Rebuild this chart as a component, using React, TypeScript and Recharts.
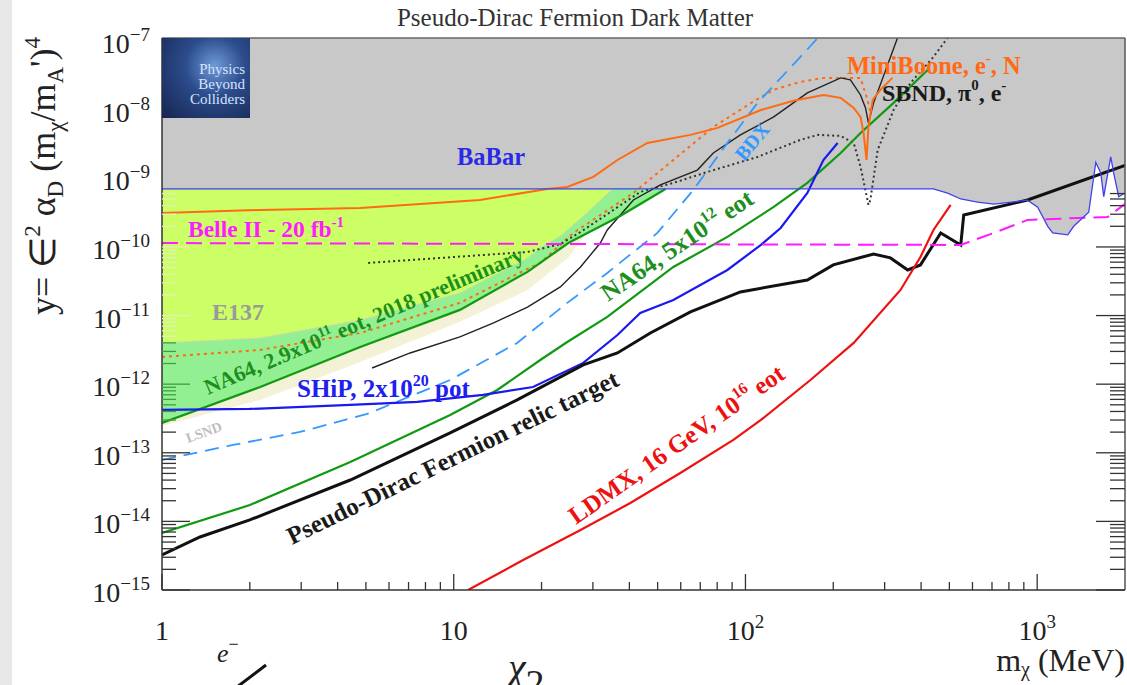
import React from 'react'
import { ComposedChart, Line, Area, XAxis, YAxis, ReferenceLine } from 'recharts'

const SERIF = '"Liberation Serif", "Times New Roman", serif'

const X_MIN = 1
const X_MAX = 2000
const Y_MIN = 1e-15
const Y_MAX = 1.11e-7

// axis ticks (ROOT style: decades + 2..9 minors)
const X_DECADES = [1, 10, 100, 1000]
const Y_DECADES = [-15, -14, -13, -12, -11, -10, -9, -8, -7]
const MINOR = [2, 3, 4, 5, 6, 7, 8, 9]
const X_TICKS = X_DECADES.flatMap(d => (d === 1000 ? [d] : [d, ...MINOR.map(m => m * d)]))
const Y_TICKS = Y_DECADES.flatMap(e => (e === -7 ? [1e-7] : [10 ** e, ...MINOR.map(m => m * 10 ** e)]))

// [m_chi (MeV), y]
const BABAR = [
  [1, 7.0e-10], [441, 7.0e-10], [493, 6.1e-10], [547, 5.0e-10], [625, 4.5e-10], [710, 4.2e-10],
  [927, 4.8e-10], [1004, 3.8e-10], [1087, 2.0e-10], [1130, 1.6e-10], [1273, 1.5e-10], [1334, 2.0e-10],
  [1502, 3.2e-10], [1588, 1.7e-9], [1652, 1.2e-9], [1691, 5.4e-10], [1787, 2.05e-9], [1829, 1.2e-9],
  [1903, 5.4e-10], [2000, 6.1e-10],
]
const BELLE2 = [[1, 1.14e-10], [547, 1.07e-10], [710, 1.6e-10], [927, 2.48e-10], [1746, 2.74e-10], [2000, 4.24e-10]]
const E137_LOW = [
  [1, 4.0e-12], [2.17, 4.7e-12], [4.78, 8.6e-12], [10.5, 2.13e-11], [17.9, 6.9e-11],
  [19.8, 9.7e-11], [23.2, 1.44e-10], [28.3, 3.0e-10], [35, 7.0e-10],
]
const NA64_2018 = [
  [1, 2.72e-13], [2.17, 9.1e-13], [4.78, 3.48e-12], [10.5, 1.21e-11], [17.9, 4.33e-11],
  [24.7, 1.14e-10], [37.2, 2.83e-10], [53.2, 7.0e-10],
]
// [m, low, high]
const LSND = [
  [1, 2.46e-13, 2.72e-13], [2.17, 5.9e-13, 9.1e-13], [4.78, 2.1e-12, 3.48e-12], [10.5, 8.1e-12, 1.21e-11],
  [17.9, 2.36e-11, 4.33e-11], [24.7, 7.0e-11, 1.14e-10], [28.3, 1.5e-10, 1.5e-10],
]
const MINIBOONE = [
  [1, 3.13e-10], [2.17, 3.46e-10], [4.78, 3.71e-10], [12.3, 4.84e-10], [20.9, 7.0e-10], [24.5, 7.5e-10],
  [30.1, 1.05e-9], [36.4, 1.85e-9], [46.1, 3.28e-9], [64.8, 4.3e-9], [80.2, 5.43e-9], [113, 9.9e-9],
  [146, 1.35e-8], [185, 1.64e-8], [212, 1.49e-8], [235, 1.06e-8], [248, 7.85e-9], [254, 4.59e-9],
  [260, 1.85e-9], [264, 5.61e-9], [273, 1.39e-8], [290, 1.95e-8], [319, 2.91e-8],
]
const MINIBOONE_DOT = [
  [1, 2.49e-12], [2.17, 3.16e-12], [4.78, 5.57e-12], [10.5, 1.53e-11], [17.9, 4.8e-11], [19.8, 5.85e-11],
  [25.7, 1.6e-10], [41.3, 6.12e-10], [56.6, 1.85e-9], [77.6, 5.61e-9], [106, 1.3e-8], [125, 1.95e-8],
  [154, 2.54e-8], [185, 2.91e-8], [248, 2.91e-8], [262, 1.39e-8], [268, 9.4e-9],
]
const SBND = [
  [5.25, 1.72e-12], [7.09, 2.85e-12], [10.5, 4.88e-12], [13.7, 7.8e-12], [17.9, 1.33e-11], [23.2, 2.61e-11],
  [27.2, 5.11e-11], [31.8, 1.14e-10], [33.6, 1.77e-10], [41.3, 4.84e-10], [51.1, 8.02e-10], [68.4, 1.32e-9],
  [77.6, 2.34e-9], [96.1, 4.3e-9], [125, 7.85e-9], [163, 1.76e-8], [212, 2.91e-8], [229, 2.72e-8],
  [248, 1.64e-8], [258, 1.06e-8], [264, 6.43e-9], [275, 1.26e-8], [332, 1.11e-7],
]
const SBND_DOT = [
  [5.09, 5.85e-11], [17.9, 8.45e-11], [23.2, 1.1e-10], [27.2, 1.65e-10], [43.6, 6.34e-10], [56.6, 8.57e-10],
  [74.1, 1.24e-9], [110, 2.05e-9], [154, 3.63e-9], [177, 4.3e-9], [212, 4.15e-9], [235, 3.28e-9],
  [248, 1.47e-9], [262, 4.84e-10], [264, 4.09e-10], [268, 4.84e-10], [284, 2.59e-9], [322, 9.93e-9],
  [368, 2.46e-8], [441, 5.89e-8], [493, 1.11e-7],
]
const BDX = [
  [1, 7.85e-14], [1.75, 1.3e-13], [2.97, 2.01e-13], [5.05, 3.68e-13], [9.72, 1.15e-12], [16.5, 3.99e-12],
  [24.5, 1.53e-11], [33.6, 4.18e-11], [49.9, 1.6e-10], [66.3, 6.78e-10], [86.7, 3.28e-9], [110, 1.26e-8],
  [151, 5.32e-8], [177, 1.11e-7],
]
const NA64_5E12 = [
  [1, 6.78e-15], [2.0, 1.73e-14], [4.42, 7.35e-14], [9.72, 3.56e-13], [14.1, 8.22e-13], [19.8, 2.25e-12],
  [24.5, 4.12e-12], [33.6, 9.55e-12], [56.6, 5.11e-11], [86.7, 1.4e-10], [125, 3.83e-10], [163, 8.57e-10],
  [212, 2.34e-9], [248, 4.59e-9], [322, 1.26e-8], [421, 3.8e-8],
]
const SHIP = [
  [1, 4.21e-13], [2.0, 4.35e-13], [4.42, 4.98e-13], [7.5, 5.51e-13], [12.6, 6.97e-13], [18.7, 9.1e-13],
  [27.8, 2.04e-12], [36.4, 5.21e-12], [43.6, 1.09e-11], [56.6, 1.69e-11], [86.7, 4.62e-11], [113, 1.07e-10],
  [132, 1.89e-10], [163, 6.12e-10], [185, 1.85e-9], [207, 3.28e-9],
]
const RELIC = [
  [1, 3.24e-15], [1.35, 5.93e-15], [2.0, 1.05e-14], [4.42, 4.01e-14], [9.72, 1.95e-13], [16.5, 5.89e-13],
  [27.8, 1.91e-12], [36.4, 2.85e-12], [47.2, 5.57e-12], [64.8, 1.13e-11], [96.1, 2.21e-11], [163, 3.3e-11],
  [200, 5.47e-11], [275, 7.91e-11], [314, 6.92e-11], [360, 4.62e-11], [398, 5.47e-11], [467, 1.6e-10],
  [547, 1.07e-10], [560, 2.92e-10], [927, 4.84e-10], [2000, 1.54e-9],
]
const LDMX = [
  [11.2, 1.0e-15], [17.3, 2.74e-15], [27.2, 7.5e-15], [40.3, 1.85e-14], [59.8, 5.08e-14], [90.9, 1.54e-13],
  [113, 3.01e-13], [167, 1.15e-12], [235, 3.99e-12], [340, 2.36e-11], [398, 7.14e-11], [441, 1.77e-10],
  [505, 4.09e-10],
]

const pts = (a: number[][]) => a.map(([x, y]) => ({ x, y }))
const band = (a: number[][], top: number) => a.map(([x, y]) => ({ x, lo: y, hi: top }))
const range = (d: any) => [d.lo, d.hi]

const isDecade = (v: number) => Math.abs(Math.log10(v) - Math.round(Math.log10(v))) < 1e-6

// left ticks vanish under the grey fill, go pale over E137 and greenish over NA64
const leftTickColor = (v: number) =>
  v > 6.9e-10 ? null : v > 4.1e-12 ? '#e2f0b4' : v > 2.6e-13 ? '#3f9f3f' : '#333'

function LeftTick({ x, y, payload }: any) {
  const v = payload.value
  const major = isDecade(v)
  const e = Math.round(Math.log10(v))
  const c = leftTickColor(v)
  return (
    <g>
      {c && <line x1={x} x2={x + (major ? 28 : 14)} y1={y} y2={y} stroke={c} strokeWidth={1.3} />}
      {major && (
        <text x={x - 12} y={y + 12} textAnchor="end" fontFamily={SERIF} fontSize={28} fill="#222">
          10<tspan dy={-12} fontSize={19}>{`\u2212${-e}`}</tspan>
        </text>
      )}
    </g>
  )
}

function RightTick({ x, y, payload }: any) {
  const v = payload.value
  if (v > 6e-10) return <g />
  const major = isDecade(v)
  return <line x1={x} x2={x - (major ? 29 : 15)} y1={y} y2={y} stroke="#333" strokeWidth={1.3} />
}

function BottomTick({ x, y, payload }: any) {
  const v = payload.value
  const major = isDecade(v)
  const e = Math.round(Math.log10(v))
  return (
    <g>
      <line x1={x} x2={x} y1={y} y2={y - (major ? 16 : 8)} stroke="#333" strokeWidth={1.3} />
      {major && (
        <text x={x} y={y + 50} textAnchor="middle" fontFamily={SERIF} fontSize={28} fill="#222">
          {e < 2 ? String(v) : '10'}
          {e >= 2 && <tspan dy={-12} fontSize={19}>{e}</tspan>}
        </text>
      )}
    </g>
  )
}

const lbl = { fontFamily: SERIF, fontWeight: 700 } as const

// labels sitting on top of the plot
function Labels() {
  return (
    <svg width={1127} height={685} style={{ position: 'absolute', left: 0, top: 0, pointerEvents: 'none' }}>
      <text x={575} y={26} textAnchor="middle" fontFamily={SERIF} fontSize={25} fill="#333">
        Pseudo-Dirac Fermion Dark Matter
      </text>
      <text transform="translate(55,176) rotate(-90)" textAnchor="middle" fontFamily={SERIF} fontSize={36} fill="#222">
        y= ∈<tspan dy={-15} fontSize={23}>2</tspan>
        <tspan dy={15}> α</tspan><tspan dy={8} fontSize={23}>D</tspan>
        <tspan dy={-8}> (m</tspan><tspan dy={8} fontSize={23}>χ</tspan>
        <tspan dy={-8}>/m</tspan><tspan dy={8} fontSize={23}>A</tspan>
        <tspan dy={-8}>')</tspan><tspan dy={-15} fontSize={23}>4</tspan>
      </text>
      <text x={1125} y={671} textAnchor="end" fontFamily={SERIF} fontSize={32} fill="#222">
        m<tspan dy={5} fontSize={20}>χ</tspan><tspan dy={-5}> (MeV)</tspan>
      </text>

      <text x={457} y={165} {...lbl} fontSize={24.5} fill="#2a2ae6">BaBar</text>
      <text x={188} y={237} {...lbl} fontSize={23.5} fill="#ff1aff">
        Belle II - 20 fb<tspan dy={-10} fontSize={15}>-1</tspan>
      </text>
      <text x={212} y={320} {...lbl} fontSize={24} fill="#9a9a9a">E137</text>
      <text transform="translate(208,395) rotate(-23)" {...lbl} fontSize={22} fill="#1d8f1d">
        NA64, 2.9x10<tspan dy={-9} fontSize={14}>11</tspan><tspan dy={9}> eot, 2018 preliminary</tspan>
      </text>
      <text x={297} y={397} {...lbl} fontSize={25} fill="#2020ee">
        SHiP, 2x10<tspan dy={-11} fontSize={16}>20</tspan><tspan dy={11}> pot</tspan>
      </text>
      <text transform="translate(188,443) rotate(-20)" {...lbl} fontSize={14} fill="#bdbdbd">LSND</text>
      <text transform="translate(292,545) rotate(-26)" {...lbl} fontSize={25} fill="#1a1a1a">
        Pseudo-Dirac Fermion relic target
      </text>
      <text transform="translate(608,302) rotate(-34)" {...lbl} fontSize={25} fill="#1d8f1d">
        NA64, 5x10<tspan dy={-11} fontSize={16}>12</tspan><tspan dy={11}> eot</tspan>
      </text>
      <text transform="translate(576,525) rotate(-35)" {...lbl} fontSize={25} fill="#ee1111">
        LDMX, 16 GeV, 10<tspan dy={-11} fontSize={16}>16</tspan><tspan dy={11}> eot</tspan>
      </text>
      <text transform="translate(744,162) rotate(-50)" {...lbl} fontSize={20} fill="#3399ff">BDX</text>
      <text x={847} y={74} {...lbl} fontSize={24.5} fill="#ff6a13">
        MiniBoone, e<tspan dy={-11} fontSize={15}>-</tspan><tspan dy={11}>, N</tspan>
      </text>
      <text x={882} y={101} {...lbl} fontSize={24} fill="#1a1a1a">
        SBND, π<tspan dy={-11} fontSize={15}>0</tspan><tspan dy={11}>, e</tspan>
        <tspan dy={-11} fontSize={15}>-</tspan>
      </text>

      {/* bits of the next slide peeking in */}
      <text x={217} y={662} fontFamily={SERIF} fontStyle="italic" fontSize={26} fill="#222">
        e<tspan dy={-12} fontSize={18} fontStyle="normal">−</tspan>
      </text>
      <line x1={237} y1={687} x2={266} y2={665} stroke="#111" strokeWidth={3} />
      <text x={508} y={681} fontFamily={SERIF} fontStyle="italic" fontSize={40} fill="#222">
        χ<tspan dy={15} fontSize={38} fontStyle="normal">2</tspan>
      </text>
    </svg>
  )
}

function Logo() {
  return (
    <div
      style={{
        position: 'absolute', left: 162, top: 38, width: 88, height: 80,
        background: 'radial-gradient(circle at 60% 35%, #6f9ad8 0%, #2c4c8c 40%, #16244f 100%)',
        fontFamily: SERIF, fontSize: 15, lineHeight: '15px', color: '#d6e4ff', textAlign: 'right',
        boxSizing: 'border-box', paddingTop: 24, paddingRight: 5,
      }}
    >
      Physics<br />Beyond<br />Colliders
    </div>
  )
}

export default function App() {
  return (
    <div style={{ position: 'absolute', left: 0, top: 0, width: 1127, height: 685, overflow: 'hidden', background: '#fff' }}>
      <div style={{ position: 'absolute', left: 0, top: 0, width: 12, height: 685, background: '#e8e8e8' }} />
      <ComposedChart width={1127} height={685} margin={{ top: 38, right: 1, bottom: 0, left: 0 }}>
        <XAxis
          dataKey="x" type="number" scale="log" domain={[X_MIN, X_MAX]} allowDataOverflow
          ticks={X_TICKS} interval={0} height={95} tickSize={0} tickMargin={0}
          axisLine={{ stroke: '#333', strokeWidth: 1.5 }} tickLine={false} tick={<BottomTick />}
        />
        <YAxis
          type="number" scale="log" domain={[Y_MIN, Y_MAX]} allowDataOverflow
          ticks={Y_TICKS} interval={0} width={162} tickSize={0} tickMargin={0}
          axisLine={{ stroke: '#333', strokeWidth: 1.5 }} tickLine={false} tick={<LeftTick />}
        />
        <YAxis
          yAxisId="r" orientation="right" type="number" scale="log" domain={[Y_MIN, Y_MAX]} allowDataOverflow
          ticks={Y_TICKS} interval={0} width={1} tickSize={0} tickMargin={0}
          axisLine={{ stroke: '#555', strokeWidth: 1.5 }} tickLine={false} tick={<RightTick />}
        />

        {/* excluded regions */}
        <Area data={band(BABAR, Y_MAX)} dataKey={range} type="linear" fill="#c8c8c8" fillOpacity={1} stroke="none" isAnimationActive={false} />
        <Area data={band(NA64_2018, 7.0e-10)} dataKey={range} type="linear" fill="#92f092" fillOpacity={1} stroke="none" isAnimationActive={false} />
        <Area data={LSND.map(([x, lo, hi]) => ({ x, lo, hi }))} dataKey={range} type="linear" fill="#f3f1d6" fillOpacity={1} stroke="none" isAnimationActive={false} />
        <Area data={band(E137_LOW, 7.0e-10)} dataKey={range} type="linear" fill="#ccff66" fillOpacity={1} stroke="#d4d8a8" strokeWidth={1} isAnimationActive={false} />

        {/* projections and limits */}
        <Line data={pts(MINIBOONE_DOT)} dataKey="y" type="linear" stroke="#ff6a13" strokeWidth={2} strokeDasharray="3 4" dot={false} isAnimationActive={false} />
        <Line data={pts(SBND_DOT)} dataKey="y" type="linear" stroke="#333" strokeWidth={2} strokeDasharray="2 3" dot={false} isAnimationActive={false} />
        <Line data={pts(SBND)} dataKey="y" type="linear" stroke="#222" strokeWidth={1.4} dot={false} isAnimationActive={false} />
        <Line data={pts(BDX)} dataKey="y" type="linear" stroke="#3399ff" strokeWidth={1.8} strokeDasharray="14 8" dot={false} isAnimationActive={false} />
        <Line data={pts(NA64_2018)} dataKey="y" type="linear" stroke="#119911" strokeWidth={2.2} dot={false} isAnimationActive={false} />
        <Line data={pts(NA64_5E12)} dataKey="y" type="linear" stroke="#119911" strokeWidth={2.2} dot={false} isAnimationActive={false} />
        <Line data={pts(SHIP)} dataKey="y" type="linear" stroke="#1a1aee" strokeWidth={2.2} dot={false} isAnimationActive={false} />
        <Line data={pts(RELIC)} dataKey="y" type="linear" stroke="#111" strokeWidth={3} dot={false} isAnimationActive={false} />
        <Line data={pts(LDMX)} dataKey="y" type="linear" stroke="#ee1111" strokeWidth={2.2} dot={false} isAnimationActive={false} />
        <Line data={pts(BELLE2)} dataKey="y" type="linear" stroke="#ff1aff" strokeWidth={2} strokeDasharray="16 8" dot={false} isAnimationActive={false} />
        <Line data={pts(MINIBOONE)} dataKey="y" type="linear" stroke="#ff6a13" strokeWidth={2} dot={false} isAnimationActive={false} />
        <Line data={pts(BABAR)} dataKey="y" type="linear" stroke="#4040f0" strokeWidth={1.3} dot={false} isAnimationActive={false} />

        <ReferenceLine y={Y_MAX} stroke="#666" strokeWidth={1.5} />
      </ComposedChart>
      <Logo />
      <Labels />
    </div>
  )
}
